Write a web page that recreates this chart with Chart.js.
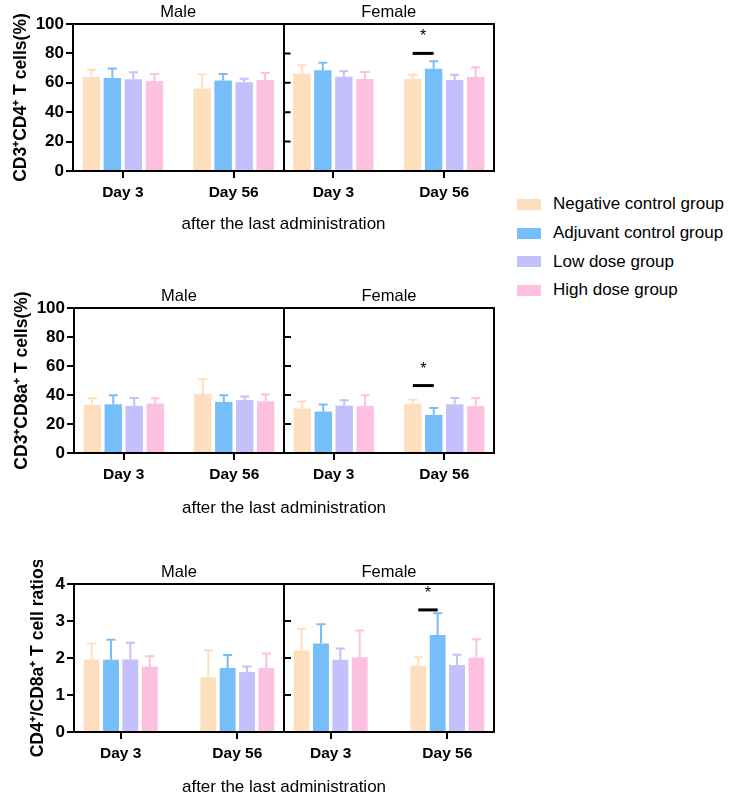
<!DOCTYPE html>
<html>
<head>
<meta charset="utf-8">
<script src="https://cdn.jsdelivr.net/npm/chart.js@4.4.0/dist/chart.umd.min.js"></script>
<style>
  body { margin: 0; background: #fff; }
  #page { position: relative; width: 730px; height: 805px; overflow: hidden; font-family: "Liberation Sans", Arial, sans-serif; }
  canvas { position: absolute; left: 0; }
  #legend { position: absolute; left: 517px; top: 190px; }
  .item { height: 28.7px; display: flex; align-items: center; font-size: 17px; color: #000; white-space: nowrap; }
  .sw { width: 24px; height: 11px; margin-right: 12px; }
</style>
</head>
<body>
<div id="page">
  <canvas id="cd4" width="500" height="239" style="top:0px"></canvas>
  <canvas id="cd8" width="500" height="239" style="top:284px"></canvas>
  <canvas id="ratio" width="500" height="242" style="top:560px"></canvas>
  <div id="legend"></div>
</div>
<script>
const days = ['Day 3', 'Day 56'];
const sexes = ['Male', 'Female'];
const groups = ['Negative control group', 'Adjuvant control group', 'Low dose group', 'High dose group'];
const groupColors = ['#FEDFBD', '#76BEF9', '#C3C0FB', '#FDC0E0'];

// each row: Male Day 3, Male Day 56, Female Day 3, Female Day 56
const cd4Means = [
  [63.9, 56.2, 66.4, 62.6],
  [63.3, 61.5, 68.5, 69.6],
  [62.4, 60.3, 64.2, 61.9],
  [61.2, 61.9, 62.6, 63.9]
];
const cd4Sd = [
  [5.0, 9.6, 5.5, 2.9],
  [6.5, 4.5, 5.2, 5.0],
  [4.7, 2.5, 3.6, 3.6],
  [4.8, 4.8, 4.7, 6.6]
];
const cd8Means = [
  [33.2, 40.7, 30.7, 33.9],
  [33.6, 35.2, 28.6, 26.3],
  [32.5, 36.6, 32.7, 33.6],
  [34.1, 35.7, 32.5, 32.3]
];
const cd8Sd = [
  [4.6, 10.1, 4.8, 2.9],
  [6.2, 4.6, 4.8, 4.8],
  [5.5, 2.3, 3.7, 4.4],
  [3.7, 4.6, 7.3, 5.7]
];
const ratioMeans = [
  [1.96, 1.48, 2.20, 1.80],
  [1.95, 1.73, 2.39, 2.62],
  [1.96, 1.62, 1.95, 1.81],
  [1.77, 1.73, 2.02, 2.01]
];
const ratioSd = [
  [0.43, 0.73, 0.59, 0.22],
  [0.54, 0.35, 0.52, 0.59],
  [0.45, 0.15, 0.31, 0.28],
  [0.28, 0.39, 0.72, 0.50]
];

// significance: [bar level, asterisk level], drawn over Female Day 56 (neg vs adjuvant)
const cd4Sig = [80, 94];
const cd8Sig = [46.5, 60];
const ratioSig = [3.3, 3.84];
const sigIndex = 3;

const FONT = '"Liberation Sans", Arial, sans-serif';

// legend
const legend = document.getElementById('legend');
groups.forEach((g, i) => {
  const row = document.createElement('div');
  row.className = 'item';
  row.innerHTML = '<span class="sw" style="background:' + groupColors[i] + '"></span>' + g;
  legend.appendChild(row);
});

function extrasPlugin(sd, sig) {
  return {
    id: 'extras',
    afterDatasetsDraw(chart) {
      const { ctx, chartArea } = chart;
      const y = chart.scales.y;
      ctx.save();
      // error bars (mean + SD)
      chart.data.datasets.forEach((ds, g) => {
        chart.getDatasetMeta(g).data.forEach((bar, i) => {
          const top = y.getPixelForValue(ds.data[i].y + sd[g][i]);
          ctx.strokeStyle = ds.backgroundColor;
          ctx.lineWidth = 2;
          ctx.beginPath();
          ctx.moveTo(bar.x, bar.y);
          ctx.lineTo(bar.x, top);
          ctx.moveTo(bar.x - 4.5, top);
          ctx.lineTo(bar.x + 4.5, top);
          ctx.stroke();
        });
      });
      // tick marks on the Female panel's left edge
      const sepX = (chartArea.left + chartArea.right) / 2;
      ctx.strokeStyle = '#000';
      ctx.lineWidth = 2;
      ctx.beginPath();
      y.ticks.forEach(t => {
        const py = y.getPixelForValue(t.value);
        ctx.moveTo(sepX, py);
        ctx.lineTo(sepX + 7, py);
      });
      ctx.stroke();
      // significance bar
      const a = chart.getDatasetMeta(0).data[sigIndex];
      const b = chart.getDatasetMeta(1).data[sigIndex];
      const ly = y.getPixelForValue(sig[0]);
      ctx.lineWidth = 3;
      ctx.beginPath();
      ctx.moveTo(a.x, ly);
      ctx.lineTo(b.x, ly);
      ctx.stroke();
      ctx.fillStyle = '#000';
      ctx.font = '16px ' + FONT;
      ctx.textAlign = 'center';
      ctx.textBaseline = 'middle';
      ctx.fillText('*', (a.x + b.x) / 2, y.getPixelForValue(sig[1]) + 4);
      ctx.restore();
    }
  };
}

function makeChart(id, cfg) {
  const canvas = document.getElementById(id);
  const pad = cfg.pad;
  const panel = 2 * pad + 1;
  const dayPos = [0, 1, panel, panel + 1];
  const tickLabels = sexes.flatMap(() => days);
  const titleSize = 17.5;

  const datasets = groups.map((g, gi) => ({
    label: g,
    data: dayPos.map((x, i) => ({ x: x, y: cfg.means[gi][i] })),
    backgroundColor: groupColors[gi],
    borderWidth: 0,
    categoryPercentage: cfg.catPct,
    barPercentage: cfg.barPct,
    xAxisID: 'x',
    yAxisID: 'y'
  }));

  return new Chart(canvas, {
    type: 'bar',
    data: { datasets: datasets },
    options: {
      responsive: false,
      animation: false,
      layout: { padding: { left: 0, right: canvas.width - 494, top: 0, bottom: 0 } },
      plugins: { legend: { display: false }, tooltip: { enabled: false } },
      scales: {
        x: {
          type: 'linear',
          position: 'bottom',
          offset: false,
          bounds: 'data',
          min: -pad,
          max: 2 * panel - pad,
          afterBuildTicks: (s) => { s.ticks = dayPos.map(v => ({ value: v })); },
          afterFit: (s) => { s.height = canvas.height - cfg.plotBottom; },
          ticks: {
            callback: (v, i) => tickLabels[i],
            color: '#000',
            font: { family: FONT, size: 15.5, weight: 'bold' },
            padding: 5,
            maxRotation: 0,
            autoSkip: false
          },
          grid: { offset: false, drawOnChartArea: false, tickLength: 7, color: '#000', lineWidth: 2 },
          border: { color: '#000', width: 2 },
          title: {
            display: true,
            text: 'after the last administration',
            color: '#000',
            font: { family: FONT, size: 17 },
            padding: { top: 0, bottom: 4 }
          }
        },
        sex: {
          type: 'category',
          position: 'top',
          labels: sexes,
          offset: true,
          afterFit: (s) => { s.height = cfg.plotTop; },
          ticks: { color: '#000', font: { family: FONT, size: 16.5 }, padding: 2 },
          grid: { offset: true, drawTicks: false, color: '#000', lineWidth: 2 },
          border: { color: '#000', width: 2 }
        },
        y: {
          min: 0,
          max: cfg.yMax,
          afterFit: (s) => { s.width = cfg.plotLeft; },
          ticks: {
            stepSize: cfg.yStep,
            color: '#000',
            font: { family: FONT, size: 17, weight: 'bold' },
            padding: 2
          },
          grid: { drawOnChartArea: false, tickLength: 7, color: '#000', lineWidth: 2 },
          border: { color: '#000', width: 2 },
          title: {
            display: true,
            text: cfg.yTitle,
            color: '#000',
            font: { family: FONT, size: titleSize, weight: 'bold' },
            padding: { top: cfg.titleX - titleSize * 0.6, bottom: 0 }
          }
        }
      }
    },
    plugins: [extrasPlugin(cfg.sd, cfg.sig)]
  });
}

makeChart('cd4', {
  yTitle: 'CD3\u207ACD4\u207A T cells(%)',
  means: cd4Means, sd: cd4Sd, sig: cd4Sig,
  yMax: 100, yStep: 20,
  plotLeft: 73, plotTop: 24, plotBottom: 171,
  pad: 0.45, catPct: 0.843, barPct: 0.83, titleX: 21
});
makeChart('cd8', {
  yTitle: 'CD3\u207ACD8a\u207A T cells(%)',
  means: cd8Means, sd: cd8Sd, sig: cd8Sig,
  yMax: 100, yStep: 20,
  plotLeft: 74, plotTop: 24, plotBottom: 169,
  pad: 0.45, catPct: 0.843, barPct: 0.83, titleX: 22
});
makeChart('ratio', {
  yTitle: 'CD4\u207A/CD8a\u207A T cell ratios',
  means: ratioMeans, sd: ratioSd, sig: ratioSig,
  yMax: 4, yStep: 1,
  plotLeft: 74, plotTop: 24, plotBottom: 172,
  pad: 0.4, catPct: 0.83, barPct: 0.82, titleX: 38
});
</script>
</body>
</html>
